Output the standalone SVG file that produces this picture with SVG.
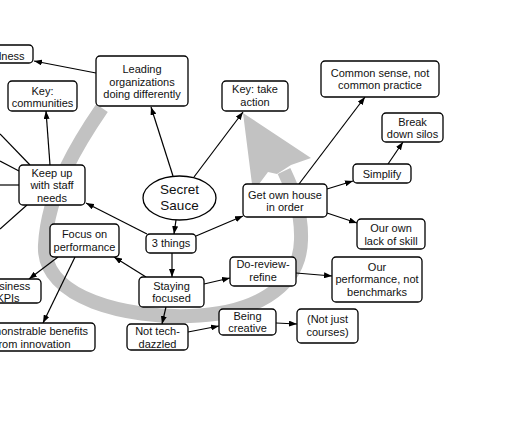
<svg xmlns="http://www.w3.org/2000/svg" width="530" height="442" viewBox="0 0 530 442">
<defs>
<marker id="ah" viewBox="0 0 8 6" refX="8" refY="3" markerWidth="8" markerHeight="6" markerUnits="userSpaceOnUse" orient="auto">
<path d="M0,0 L8,3 L0,6 z" fill="#000"/>
</marker>
</defs>
<style>
.b{fill:#fff;stroke:#000;stroke-width:1.3}
.t{font-family:"Liberation Sans",Arial,sans-serif;font-size:11px;fill:#111;text-anchor:middle}
.s{font-family:"Liberation Sans",Arial,sans-serif;font-size:13.5px;fill:#111;text-anchor:middle}
.c line{stroke:#000;stroke-width:1.2}
.c .a{marker-end:url(#ah)}
.g{fill:none;stroke:#c2c2c2;stroke-width:14}
</style>
<rect width="530" height="442" fill="#fff"/>
<g id="big-arrow">
<path class="g" d="M102,108 C80,140 48,190 45,245 C42,300 130,318 190,316 C250,314 300,290 301,240 C302,210 292,188 284,171"/>
<polygon points="243,113 311,158 291,165 277,174 268,172 253,192" fill="#c2c2c2"/>
</g>
<g id="connectors" class="c">
<line class="a" x1="96" y1="73" x2="34" y2="61"/>
<line class="a" x1="173" y1="176" x2="151" y2="107"/>
<line class="a" x1="194" y1="177" x2="243" y2="112"/>
<line class="a" x1="176" y1="220" x2="174" y2="234"/>
<line class="a" x1="147" y1="234" x2="86" y2="203"/>
<line class="a" x1="196" y1="236" x2="243" y2="216"/>
<line class="a" x1="172" y1="253" x2="172" y2="277"/>
<line class="a" x1="146" y1="277" x2="114" y2="257"/>
<line class="a" x1="204" y1="284" x2="230" y2="278"/>
<line class="a" x1="166" y1="307" x2="162" y2="324"/>
<line class="a" x1="188" y1="332" x2="219" y2="326"/>
<line class="a" x1="276" y1="323" x2="297" y2="324"/>
<line class="a" x1="296" y1="273" x2="332" y2="276"/>
<line class="a" x1="299" y1="184" x2="365" y2="97"/>
<line class="a" x1="327" y1="189" x2="353" y2="181"/>
<line class="a" x1="388" y1="164" x2="403" y2="142"/>
<line class="a" x1="327" y1="213" x2="357" y2="223"/>
<line class="a" x1="50" y1="165" x2="46" y2="111"/>
<line class="a" x1="58" y1="257" x2="29" y2="279"/>
<line class="a" x1="75" y1="257" x2="43" y2="323"/>
<line x1="30" y1="165" x2="0" y2="134"/>
<line x1="19" y1="171" x2="0" y2="161"/>
<line x1="19" y1="185" x2="0" y2="185"/>
<line x1="27" y1="205" x2="0" y2="229"/>
</g>
<g id="n-readiness"><rect class="b" x="-30" y="45" width="63" height="18" rx="4"/><text class="t" x="24.5" y="60" style="text-anchor:end">dness</text></g>
<g id="n-key-communities"><rect class="b" x="8" y="81" width="69" height="30" rx="4"/><text class="t" x="42.5" y="95">Key:</text><text class="t" x="42.5" y="107">communities</text></g>
<g id="n-leading"><rect class="b" x="96" y="56" width="92" height="50" rx="4"/><text class="t" x="142" y="73">Leading</text><text class="t" x="142" y="86">organizations</text><text class="t" x="142" y="98">doing differently</text></g>
<g id="n-key-action"><rect class="b" x="222" y="81" width="66" height="30" rx="4"/><text class="t" x="255" y="93">Key: take</text><text class="t" x="255" y="106">action</text></g>
<g id="n-common-sense"><rect class="b" x="321" y="61" width="118" height="36" rx="4"/><text class="t" x="380" y="77">Common sense, not</text><text class="t" x="380" y="89">common practice</text></g>
<g id="n-silos"><rect class="b" x="382" y="113" width="61" height="29" rx="4"/><text class="t" x="412.5" y="126">Break</text><text class="t" x="412.5" y="138">down silos</text></g>
<g id="n-simplify"><rect class="b" x="353" y="164" width="58" height="19" rx="4"/><text class="t" x="382" y="178">Simplify</text></g>
<g id="n-own-house"><rect class="b" x="243" y="184" width="84" height="33" rx="4"/><text class="t" x="285" y="199">Get own house</text><text class="t" x="285" y="211">in order</text></g>
<g id="n-lack-skill"><rect class="b" x="357" y="219" width="68" height="30" rx="4"/><text class="t" x="391" y="232">Our own</text><text class="t" x="391" y="245">lack of skill</text></g>
<g id="n-our-performance"><rect class="b" x="332" y="257" width="90" height="45" rx="4"/><text class="t" x="377" y="271">Our</text><text class="t" x="377" y="283">performance, not</text><text class="t" x="377" y="296">benchmarks</text></g>
<g id="n-do-review"><rect class="b" x="230" y="257" width="66" height="29" rx="4"/><text class="t" x="263" y="268">Do-review-</text><text class="t" x="263" y="281">refine</text></g>
<g id="n-creative"><rect class="b" x="219" y="309" width="57" height="26" rx="4"/><text class="t" x="247.5" y="320">Being</text><text class="t" x="247.5" y="332">creative</text></g>
<g id="n-courses"><rect class="b" x="297" y="309" width="61" height="34" rx="4"/><text class="t" x="327.5" y="323">(Not just</text><text class="t" x="327.5" y="336">courses)</text></g>
<g id="n-secret-sauce"><ellipse class="b" cx="179.5" cy="198" rx="36.5" ry="22"/><text class="s" x="179.5" y="194">Secret</text><text class="s" x="179.5" y="210">Sauce</text></g>
<g id="n-3-things"><rect class="b" x="146" y="234" width="50" height="19" rx="4"/><text class="t" x="171" y="247">3 things</text></g>
<g id="n-staying"><rect class="b" x="139" y="277" width="65" height="30" rx="4"/><text class="t" x="171.5" y="290">Staying</text><text class="t" x="171.5" y="302">focused</text></g>
<g id="n-tech"><rect class="b" x="127" y="324" width="61" height="26" rx="4"/><text class="t" x="157.5" y="335">Not tech-</text><text class="t" x="157.5" y="348">dazzled</text></g>
<g id="n-focus-perf"><rect class="b" x="50" y="224" width="69" height="33" rx="4"/><text class="t" x="84.5" y="238">Focus on</text><text class="t" x="84.5" y="251">performance</text></g>
<g id="n-kpis"><rect class="b" x="-20" y="279" width="61" height="24" rx="4"/><text class="t" x="8" y="290">Business</text><text class="t" x="8" y="302">KPIs</text></g>
<g id="n-benefits"><rect class="b" x="-30" y="323" width="125" height="28" rx="4"/><text class="t" x="33" y="335">Demonstrable benefits</text><text class="t" x="33" y="348">from innovation</text></g>
<g id="n-keep-up"><rect class="b" x="19" y="165" width="66" height="40" rx="4"/><text class="t" x="52" y="177">Keep up</text><text class="t" x="52" y="189">with staff</text><text class="t" x="52" y="202">needs</text></g>
</svg>
